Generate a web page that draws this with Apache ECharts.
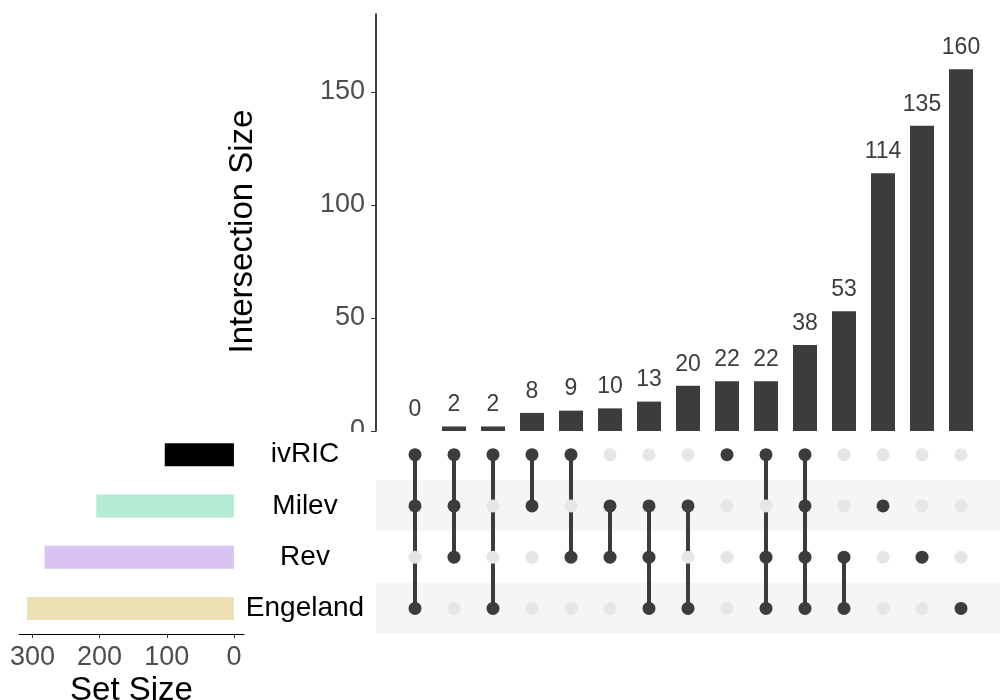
<!DOCTYPE html>
<html>
<head>
<meta charset="utf-8">
<script src="https://cdn.jsdelivr.net/npm/echarts@6/dist/echarts.min.js"></script>
<style>html,body{margin:0;padding:0;background:#fff;}#chart{width:1000px;height:700px;}</style>
</head>
<body>
<div id="chart"></div>
<script>
// ---- data ----
const sets = ['ivRIC', 'Milev', 'Rev', 'Engeland'];
const setSizes = [103, 205, 282, 308];
const setColors = ['#000000', '#b3ebd3', '#d9c3f5', '#ede0b3'];
const intersectionSizes = [0, 2, 2, 8, 9, 10, 13, 20, 22, 22, 38, 53, 114, 135, 160];
// membership of each intersection (column), listed by set name
const memberships = [
  ['ivRIC', 'Milev', 'Engeland'],
  ['ivRIC', 'Milev', 'Rev'],
  ['ivRIC', 'Engeland'],
  ['ivRIC', 'Milev'],
  ['ivRIC', 'Rev'],
  ['Milev', 'Rev'],
  ['Milev', 'Rev', 'Engeland'],
  ['Milev', 'Engeland'],
  ['ivRIC'],
  ['ivRIC', 'Rev', 'Engeland'],
  ['ivRIC', 'Milev', 'Rev', 'Engeland'],
  ['Rev', 'Engeland'],
  ['Milev'],
  ['Rev'],
  ['Engeland']
];
const intersectionTicks = [0, 50, 100, 150];
const setSizeTicks = [0, 100, 200, 300];

// ---- build ----
const FONT = '"Liberation Sans", Arial, Helvetica, sans-serif';
const DARK = '#3c3c3c';
const barData = intersectionSizes.map((v, i) => [i + 1, v]);
const dotData = [];
const segData = [];
memberships.forEach((m, i) => {
  const idx = [];
  sets.forEach((s, r) => {
    const on = m.indexOf(s) >= 0;
    if (on) idx.push(r);
    dotData.push({ value: [i + 1, r], itemStyle: { color: on ? DARK : '#e6e6e6', opacity: 1 } });
  });
  if (idx.length > 1) segData.push([i + 1, Math.min(...idx), Math.max(...idx)]);
});

const chart = echarts.init(document.getElementById('chart'), null, { renderer: 'canvas' });
chart.setOption({
  animation: false,
  backgroundColor: '#ffffff',
  textStyle: { fontFamily: FONT },
  grid: [
    { left: 376, top: 14, width: 624, height: 417, outerBoundsMode: 'none', containLabel: false },
    { left: 376, top: 429, width: 624, height: 205, outerBoundsMode: 'none', containLabel: false },
    { left: 19, top: 429, width: 225, height: 205, outerBoundsMode: 'none', containLabel: false }
  ],
  xAxis: [
    { gridIndex: 0, type: 'value', min: 0, max: 16, show: false },
    { gridIndex: 1, type: 'value', min: 0, max: 16, show: false },
    {
      gridIndex: 2, type: 'value', min: -15, max: 320, inverse: true,
      axisLine: { show: true, lineStyle: { color: '#000', width: 1 } },
      axisTick: { show: true, length: 4, lineStyle: { color: '#333' }, customValues: setSizeTicks },
      axisLabel: { customValues: setSizeTicks, color: '#4d4d4d', fontSize: 27, margin: 10, fontFamily: FONT },
      splitLine: { show: false },
      name: 'Set Size', nameLocation: 'middle', nameGap: 40,
      nameTextStyle: { color: '#000', fontSize: 33, fontFamily: FONT }
    }
  ],
  yAxis: [
    {
      gridIndex: 0, type: 'value', min: 0, max: 184.4,
      axisLine: { show: true, lineStyle: { color: '#000', width: 1.5 } },
      axisTick: { show: true, length: 5, lineStyle: { color: '#333' }, customValues: intersectionTicks },
      axisLabel: { customValues: intersectionTicks, color: '#4d4d4d', fontSize: 27, margin: 11, fontFamily: FONT, padding: [0, 0, 5, 0] },
      splitLine: { show: false },
      name: 'Intersection Size', nameLocation: 'middle', nameGap: 117,
      nameTextStyle: { color: '#000', fontSize: 33, fontFamily: FONT, padding: [0, 18, 0, 0] }
    },
    {
      gridIndex: 1, type: 'category', data: sets, inverse: true,
      axisLine: { show: false }, axisTick: { show: false }, axisLabel: { show: false },
      splitArea: { show: true, areaStyle: { color: ['#ffffff', '#f5f5f5'] } }
    },
    {
      gridIndex: 2, type: 'category', data: sets, inverse: true, position: 'right',
      axisLine: { show: false }, axisTick: { show: false },
      axisLabel: { color: '#000', fontSize: 28, margin: 61, align: 'center', fontFamily: FONT }
    }
  ],
  series: [
    {
      type: 'bar', xAxisIndex: 0, yAxisIndex: 0, data: barData, barWidth: 24,
      itemStyle: { color: DARK },
      label: { show: true, position: 'top', distance: 10, color: '#3c3c3c', fontSize: 23, fontFamily: FONT }
    },
    {
      type: 'custom', xAxisIndex: 1, yAxisIndex: 1, data: segData, z: 4,
      renderItem: function (params, api) {
        const p1 = api.coord([api.value(0), api.value(1)]);
        const p2 = api.coord([api.value(0), api.value(2)]);
        return { type: 'line', shape: { x1: p1[0], y1: p1[1], x2: p2[0], y2: p2[1] }, style: { stroke: DARK, lineWidth: 4 } };
      }
    },
    {
      type: 'scatter', xAxisIndex: 1, yAxisIndex: 1, data: dotData, symbolSize: 13, z: 5,
      itemStyle: { opacity: 1 }
    },
    {
      type: 'bar', xAxisIndex: 2, yAxisIndex: 2, barWidth: 23,
      data: setSizes.map((v, i) => ({ value: v, itemStyle: { color: setColors[i] } }))
    }
  ],
  graphic: [
    { type: 'rect', left: 340, top: 432, shape: { width: 32, height: 11 }, style: { fill: '#fff' }, z: 100 }
  ]
});
</script>
</body>
</html>
